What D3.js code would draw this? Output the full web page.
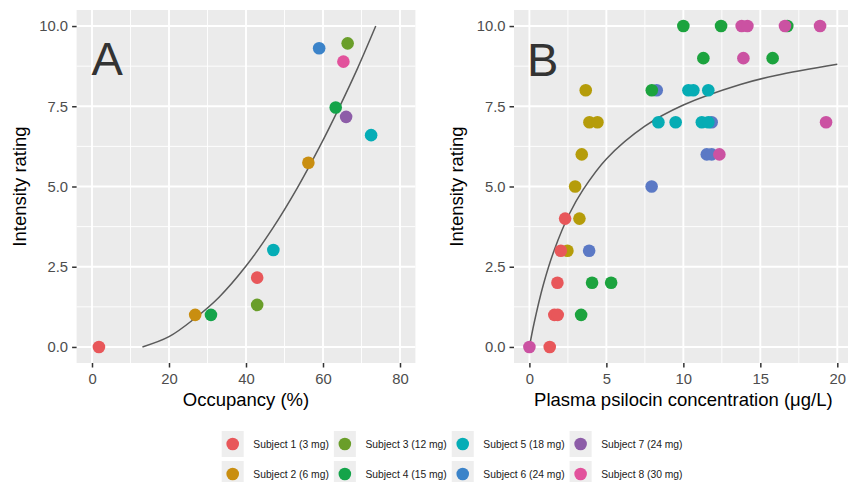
<!DOCTYPE html>
<html>
<head>
<meta charset="utf-8">
<script src="https://d3js.org/d3.v7.min.js"></script>
<style>
  body { margin: 0; background: #fff; }
  text { font-family: "Liberation Sans", Arial, Helvetica, sans-serif; }
  .tick text { font-size: 14.8px; fill: #4d4d4d; }
  .tick line { stroke: #333; stroke-width: 1.5; }
  .axis-title { font-size: 18.5px; fill: #000; }
  .panel-letter { font-size: 47px; fill: #333; }
  .legend-label { font-size: 10.3px; fill: #1a1a1a; }
</style>
</head>
<body>
<script>
// subjects and colours (panel A uses 8 levels, panel B only the 6 subjects with plasma data)
var subjects = ["Subject 1 (3 mg)", "Subject 2 (6 mg)", "Subject 3 (12 mg)", "Subject 4 (15 mg)",
                "Subject 5 (18 mg)", "Subject 6 (24 mg)", "Subject 7 (24 mg)", "Subject 8 (30 mg)"];
var colorsA = ["#E8575A", "#C98E10", "#6A9E2A", "#14A44A", "#05ADB6", "#3B83C9", "#8D5DA8", "#E2529C"];
var colorsB = ["#E8575A", "#B59C0A", null, "#1CA33E", "#06ACB4", "#5B79C5", null, "#CB52A2"];

// panel A: occupancy vs intensity
var occupancy = [1.8, 26.8, 30.9, 42.9, 42.9, 47.1, 56.2, 72.5, 66.0, 63.3, 65.3, 59.0, 66.4];
var ratingA   = [0,   1.0,  1.0,  1.31, 2.16, 3.02, 5.74, 6.60, 7.17, 7.46, 8.89, 9.31, 9.46];
var subjectA  = [1,   2,    4,    3,    1,    5,    2,    5,    7,    4,    8,    6,    3];
// fitted curve
var curveOccA    = [13.1, 20.0, 26.8, 33.0, 40.0, 47.0, 53.3, 59.0, 64.2, 69.0, 73.7];
var curveRatingA = [0,    0.32, 0.9,  1.55, 2.52, 3.71, 4.95, 6.21, 7.46, 8.69, 10];

// panel B: plasma psilocin vs intensity (order = drawing order)
var concB    = [3.88, 7.94, 8.27, 11.84, 11.52, 11.84,
                2.47, 3.25, 2.97, 3.40, 3.90, 4.42, 3.66,
                1.32, 1.62, 1.84, 1.82, 2.04, 2.32,
                3.36, 4.07, 5.31, 7.95, 11.3, 15.8, 10.0, 12.45, 16.75,
                8.38, 9.5, 11.2, 11.62, 10.33, 10.65, 11.62,
                0, 12.34, 13.79, 14.16, 13.9, 16.6, 18.88, 19.27];
var ratingB  = [3, 5, 8, 7, 6, 6,
                3, 4, 5, 6, 7, 7, 8,
                0, 1, 1, 2, 3, 4,
                1, 2, 2, 8, 9, 9, 10, 10, 10,
                7, 7, 7, 7, 8, 8, 8,
                0, 6, 10, 10, 9, 10, 10, 7];
var subjectB = [6, 6, 6, 6, 6, 6,
                2, 2, 2, 2, 2, 2, 2,
                1, 1, 1, 1, 1, 1,
                4, 4, 4, 4, 4, 4, 4, 4, 4,
                5, 5, 5, 5, 5, 5, 5,
                8, 8, 8, 8, 8, 8, 8, 8];
var curveConcB   = [0, 0.3,  0.9,  1.6, 2.6,  3.5,  5.0,  7.5,  10.0, 13.7, 16.0, 20.0];
var curveRatingB = [0, 0.73, 1.93, 3.0, 4.15, 4.91, 5.86, 6.88, 7.54, 8.18, 8.46, 8.81];

var ratingTicks = [0, 2.5, 5, 7.5, 10];
var occTicks = [0, 20, 40, 60, 80];
var concTicks = [0, 5, 10, 15, 20];

var svg = d3.select("body").append("svg")
  .attr("width", 848)
  .attr("height", 482);

function midpoints(t) {
  var m = [];
  for (var i = 0; i < t.length - 1; i++) m.push((t[i] + t[i+1]) / 2);
  return m;
}

function drawPanel(p) {
  var top = 10, bottom = 363;
  var x = d3.scaleLinear().domain(p.xDomain).range([p.left, p.right]);
  var y = d3.scaleLinear().domain([-0.5, 10.5]).range([bottom, top]);
  var g = svg.append("g");

  g.append("rect")
    .attr("x", p.left).attr("y", top)
    .attr("width", p.right - p.left).attr("height", bottom - top)
    .attr("fill", "#ebebeb");

  // grid, minor then major
  g.selectAll(".vminor").data(midpoints(p.xTicks)).enter().append("line")
    .attr("x1", function(d){return x(d);}).attr("x2", function(d){return x(d);})
    .attr("y1", top).attr("y2", bottom)
    .attr("stroke", "#fff").attr("stroke-width", 0.9);
  g.selectAll(".hminor").data(midpoints(ratingTicks)).enter().append("line")
    .attr("y1", function(d){return y(d);}).attr("y2", function(d){return y(d);})
    .attr("x1", p.left).attr("x2", p.right)
    .attr("stroke", "#fff").attr("stroke-width", 0.9);
  g.selectAll(".vmajor").data(p.xTicks).enter().append("line")
    .attr("x1", function(d){return x(d);}).attr("x2", function(d){return x(d);})
    .attr("y1", top).attr("y2", bottom)
    .attr("stroke", "#fff").attr("stroke-width", 1.9);
  g.selectAll(".hmajor").data(ratingTicks).enter().append("line")
    .attr("y1", function(d){return y(d);}).attr("y2", function(d){return y(d);})
    .attr("x1", p.left).attr("x2", p.right)
    .attr("stroke", "#fff").attr("stroke-width", 1.9);

  // axes
  var yAxis = g.append("g")
    .attr("transform", "translate(" + p.left + ",0)")
    .call(d3.axisLeft(y).tickValues(ratingTicks).tickFormat(d3.format(".1f")).tickSize(4.5).tickPadding(4));
  yAxis.select(".domain").remove();
  var xAxis = g.append("g")
    .attr("transform", "translate(0," + bottom + ")")
    .call(d3.axisBottom(x).tickValues(p.xTicks).tickFormat(d3.format("d")).tickSize(4.5).tickPadding(5.5));
  xAxis.select(".domain").remove();
  g.selectAll(".tick text").attr("font-family", null).attr("font-size", null).attr("fill", null);

  // axis titles
  g.append("text")
    .attr("class", "axis-title")
    .attr("transform", "translate(" + p.yTitleX + "," + (top + bottom) / 2 + ") rotate(-90)")
    .attr("text-anchor", "middle")
    .text("Intensity rating");
  g.append("text")
    .attr("class", "axis-title")
    .attr("x", (p.left + p.right) / 2)
    .attr("y", 406)
    .attr("text-anchor", "middle")
    .text(p.xTitle);

  // fitted curve
  var line = d3.line()
    .x(function(d){return x(d[0]);})
    .y(function(d){return y(d[1]);})
    .curve(d3.curveCatmullRom.alpha(0.5));
  g.append("path")
    .datum(p.curveX.map(function(v, i){return [v, p.curveY[i]];}))
    .attr("d", line)
    .attr("fill", "none")
    .attr("stroke", "#5a5a5a")
    .attr("stroke-width", 1.5);

  // points
  g.selectAll(".pt").data(p.xs).enter().append("circle")
    .attr("cx", function(d){return x(d);})
    .attr("cy", function(d, i){return y(p.ys[i]);})
    .attr("r", 6.3)
    .attr("fill", function(d, i){return p.colors[p.subj[i] - 1];});

  g.append("text")
    .attr("class", "panel-letter")
    .attr("x", p.letterX).attr("y", p.letterY)
    .text(p.letter);
}

drawPanel({
  left: 76.6, right: 415.4, xDomain: [-4, 84], xTicks: occTicks,
  xs: occupancy, ys: ratingA, subj: subjectA, colors: colorsA,
  curveX: curveOccA, curveY: curveRatingA,
  xTitle: "Occupancy (%)", yTitleX: 26, letter: "A", letterX: 91.5, letterY: 75
});

drawPanel({
  left: 514, right: 852.7, xDomain: [-1, 21], xTicks: concTicks,
  xs: concB, ys: ratingB, subj: subjectB, colors: colorsB,
  curveX: curveConcB, curveY: curveRatingB,
  xTitle: "Plasma psilocin concentration (\u03bcg/L)", yTitleX: 462.5, letter: "B", letterX: 527, letterY: 76
});

// legend: 4 columns x 2 rows
var legend = svg.append("g");
var keyW = 22, keyH = 26, rowY = [444, 474];
var colX = 221.7;
for (var c = 0; c < 4; c++) {
  var maxW = 0;
  for (var r = 0; r < 2; r++) {
    var s = c * 2 + r;
    legend.append("rect")
      .attr("x", colX).attr("y", rowY[r] - keyH / 2)
      .attr("width", keyW).attr("height", keyH)
      .attr("fill", "#eeeeee");
    legend.append("circle")
      .attr("cx", colX + keyW / 2).attr("cy", rowY[r])
      .attr("r", 6.3)
      .attr("fill", colorsA[s]);
    var t = legend.append("text")
      .attr("class", "legend-label")
      .attr("x", colX + 31.6).attr("y", rowY[r])
      .attr("dy", "0.35em")
      .text(subjects[s]);
    maxW = Math.max(maxW, t.node().getComputedTextLength());
  }
  colX += 31.6 + maxW + 5;
}
</script>
</body>
</html>
